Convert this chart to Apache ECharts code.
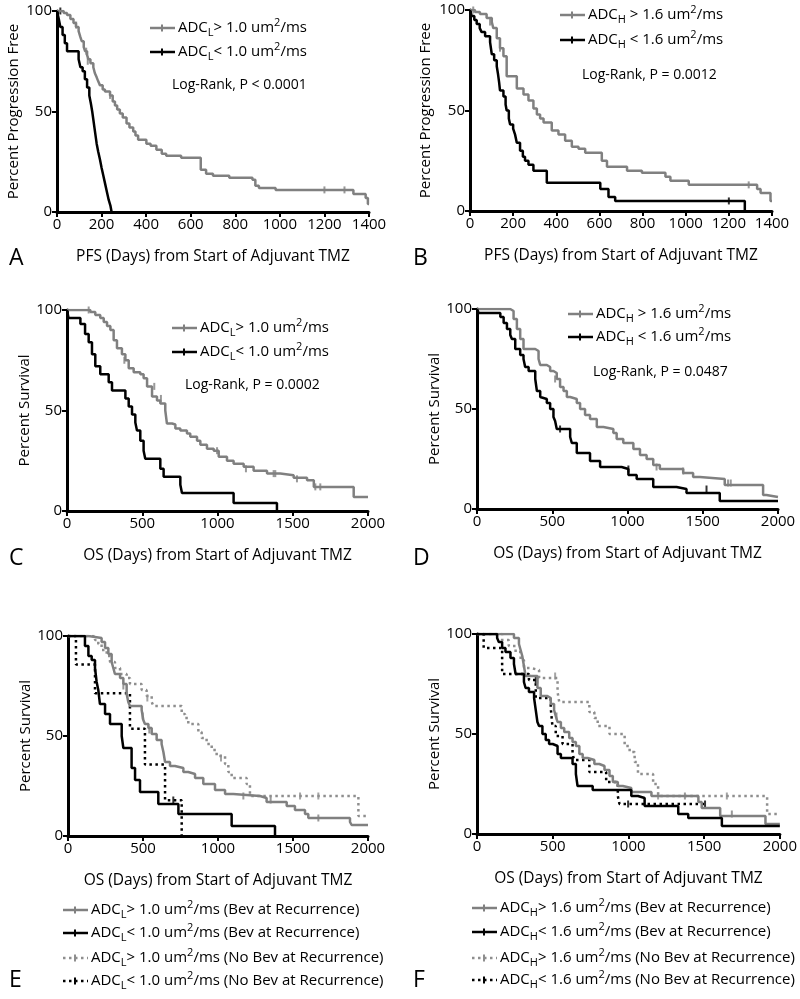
<!DOCTYPE html>
<html>
<head>
<meta charset="utf-8">
<script src="https://cdn.jsdelivr.net/npm/echarts@6/dist/echarts.min.js"></script>
<style>
  html, body { margin: 0; padding: 0; background: #fff; }
  #main { width: 800px; height: 999px; }
</style>
</head>
<body>
<div id="main"></div>
<script>
// Kaplan-Meier curves, [days, percent] (step changes)

// A: PFS by ADC_L
var pfsAdcLHigh = [[0,100],[30,99],[45,98],[60,96],[74,94],[85,92],[97,90],[105,87],[111,85],[120,82],[126,80],[135,78],[141,76],[150,74],[163,72],[170,69],[178,67],[185,65],[193,63],[205,61],[215,60],[238,58],[250,55],[260,53],[270,51],[282,49],[295,47],[312,44],[325,42],[342,40],[352,38],[364,36],[401,34],[420,33],[446,31],[470,29],[490,28],[557,27],[645,21],[669,19],[700,18],[773,17],[877,16],[890,13],[906,12],[981,11],[1330,9],[1385,7],[1395,4],[1400,4]];
var pfsAdcLHighCens = [[86,93],[131,80],[138,75],[238,58],[1200,11],[1290,11]];
var pfsAdcLLow = [[0,100],[8,96],[15,92],[25,88],[35,84],[45,80],[97,76],[105,72],[115,70],[125,66],[135,62],[145,58],[152,54],[158,50],[163,46],[168,42],[173,38],[178,34],[185,30],[193,26],[200,22],[208,18],[216,14],[224,10],[232,6],[240,3],[245,0]];
var pfsAdcLLowCens = [[15,100]];

// B: PFS by ADC_H
var pfsAdcHHigh = [[0,100],[23,99],[46,98],[77,96],[101,94],[108,91],[124,86],[139,81],[155,77],[170,67],[217,61],[248,58],[271,55],[294,51],[310,48],[325,46],[341,44],[379,40],[410,38],[441,35],[472,32],[503,31],[534,29],[611,25],[635,22],[728,20],[797,19],[906,17],[929,15],[1014,13],[1331,11],[1347,9],[1393,5],[1400,5]];
var pfsAdcHHighCens = [[15,100],[93,94],[139,81],[1292,13]];
var pfsAdcHLow = [[0,100],[8,97],[20,95],[31,93],[45,91],[54,89],[70,87],[93,84],[101,78],[112,75],[124,72],[130,68],[135,64],[139,60],[155,57],[165,53],[170,50],[180,46],[186,43],[200,41],[209,38],[217,34],[232,30],[245,27],[255,25],[271,23],[294,20],[356,14],[604,11],[642,7],[673,5],[1274,0]];
var pfsAdcHLowCens = [[1200,5]];

// C: OS by ADC_L
var osAdcLHigh = [[0,100],[155,99],[188,97.5],[221,96],[244,94],[266,92],[288,90],[310,85],[332,81],[365,78],[388,75],[410,71],[443,69],[487,68],[509,66],[532,62],[565,57],[598,55],[620,53.5],[653,50],[664,43.5],[698,43],[720,41],[753,40],[797,38.5],[819,37],[864,35],[886,33],[930,31],[975,30],[1008,27],[1063,25],[1107,23.5],[1174,22],[1240,20],[1329,18.6],[1417,17.8],[1506,16.6],[1595,15.3],[1640,12],[1905,7],[2000,7]];
var osAdcLHighCens = [[144,100],[381,75],[580,62],[624,56],[997,30],[1189,21],[1373,18.6],[1384,18.6],[1528,16],[1650,12],[1683,12]];
var osAdcLLow = [[0,100],[10,96],[89,93],[120,88],[144,84],[166,78],[188,72],[221,68],[277,64],[299,60],[388,56],[410,52],[432,48],[454,44],[465,40],[487,35],[509,30],[520,26],[620,21],[642,17],[753,13],[764,9],[1107,4],[1395,0]];
var osAdcLLowCens = [];

// D: OS by ADC_H
var osAdcHHigh = [[0,100],[221,99],[243,95],[265,90],[287,85],[309,80],[387,79],[409,75],[420,72],[464,71],[486,69],[508,68],[530,65],[552,61],[575,59],[597,56],[619,55],[663,53],[685,50],[718,47],[751,45],[796,41],[840,40],[906,38],[928,35],[972,33],[1039,30],[1083,27],[1127,25],[1171,22],[1215,20],[1370,18],[1436,16],[1481,15],[1646,12],[1901,7],[1923,6],[2000,6]];
var osAdcHHighCens = [[519,65],[1193,21],[1370,19],[1668,13],[1686,13]];
var osAdcHLow = [[0,100],[11,98],[155,96],[177,93],[199,90],[221,87],[232,85],[254,80],[287,77],[309,75],[320,71],[343,69],[387,65],[398,59],[420,56],[431,55],[464,53],[486,50],[508,46],[519,44],[530,40],[619,36],[630,33],[663,28],[751,24],[818,21],[961,20],[1006,17],[1061,15],[1171,11],[1326,10],[1392,8],[1613,4],[2000,4]];
var osAdcHLowCens = [[552,40],[1006,20],[1525,10]];

// E: OS by ADC_L and bevacizumab at recurrence
var bevAdcLHigh = [[0,100],[136,99],[224,97],[247,94],[269,91],[291,87],[302,84],[313,81],[347,79],[369,76],[391,71],[402,67],[413,65],[491,63],[502,58],[513,56],[536,54],[558,51],[591,48],[624,46],[636,42],[647,37],[680,35],[713,34],[769,32],[802,31],[847,29],[902,26],[980,23],[1047,21],[1102,20],[1280,19],[1324,17],[1458,15],[1513,13],[1580,11],[1602,9],[1880,7],[1891,5.5],[2000,5.5]];
var bevAdcLHighCens = [[369,75],[498,60],[542,53],[1169,20],[1351,18],[1669,9]];
var bevAdcLLow = [[0,100],[113,95],[136,90],[158,88],[180,84],[191,77],[202,73],[213,66],[247,61],[280,56],[358,50],[369,44],[424,34],[447,28],[480,22],[602,16],[736,11],[1091,5],[1380,0]];
var bevAdcLLowCens = [];
var noBevAdcLHigh = [[0,100],[180,98],[202,96],[224,93],[258,90],[280,87],[313,84],[347,81],[391,79],[413,76],[491,73],[524,70],[558,67],[569,65],[758,61],[780,59],[802,56],[869,52],[891,49],[924,46],[958,43],[991,40],[1047,36],[1069,32],[1091,29],[1191,26],[1213,20],[1936,10],[2000,10]];
var noBevAdcLHighCens = [[529,69],[1020,39],[1547,20],[1669,20]];
var noBevAdcLLow = [[0,100],[53,85.7],[180,71.4],[413,53.6],[513,35.7],[647,17.9],[758,0]];
var noBevAdcLLowCens = [[702,18]];

// F: OS by ADC_H and bevacizumab at recurrence
var bevAdcHHigh = [[0,100],[244,98],[277,95],[288,92],[299,89],[310,84],[321,79],[399,73],[421,69],[465,68],[487,65],[509,62],[520,59],[532,56],[554,53],[576,51],[609,48],[631,46],[653,44],[676,40],[698,38],[731,37],[775,35],[808,34],[842,32],[875,29],[897,26],[930,24],[963,23],[1019,21],[1152,19],[1462,16],[1484,13],[1606,9],[1905,5],[2000,5]];
var bevAdcHHighCens = [[399,77],[525,59],[1373,19],[1683,10]];
var bevAdcHLow = [[0,100],[133,98],[144,96],[166,93],[188,91],[221,88],[244,85],[255,80],[310,76],[321,73],[343,71],[377,68],[388,62],[399,56],[410,54],[432,50],[454,47],[476,45],[500,44],[532,40],[554,38],[631,35],[653,30],[664,24],[764,22],[1019,19],[1063,18],[1107,14],[1329,10],[1395,8],[1617,4],[2000,4]];
var bevAdcHLowCens = [[388,77]];
var noBevAdcHHigh = [[0,100],[166,97],[210,94],[255,91],[288,87],[310,83],[354,82],[410,78],[532,71],[543,66],[742,61],[775,58],[797,54],[875,50],[975,44],[1008,41],[1041,36],[1063,30],[1163,25],[1196,19],[1916,10],[2000,10]];
var noBevAdcHHighCens = [[516,79],[1196,19],[1650,19]];
var noBevAdcHLow = [[0,100],[44,93],[166,80],[343,77],[388,68],[487,63],[498,54],[520,49],[565,45],[631,40],[642,37],[742,31],[853,26],[930,19],[941,15],[1506,15]];
var noBevAdcHLowCens = [[998,15],[1506,15]];

// axis ranges / labels
var pfsMax = 1400, pfsStep = 200;
var osMax = 2000, osStep = 500;
var pctTicks = 50;
var pfsTitle = 'PFS (Days) from Start of Adjuvant TMZ';
var osTitle = 'OS (Days) from Start of Adjuvant TMZ';
var logRank = ['Log-Rank, P < 0.0001', 'Log-Rank, P = 0.0012', 'Log-Rank, P = 0.0002', 'Log-Rank, P = 0.0487'];

var GRAY = '#808080';
var DGRAY = '#8e8e8e';
var FONT = 'Open Sans';
var DOT = [2.5, 3.5];

var panels = [
  { letter: 'A', lx: 9, ly: 258, box: [57, 11, 312, 201], xMax: pfsMax, xStep: pfsStep, xName: pfsTitle, yName: 'Percent Progression Free', yGap: 36,
    curves: [
      { data: pfsAdcLHigh, cens: pfsAdcLHighCens, color: GRAY },
      { data: pfsAdcLLow, cens: pfsAdcLLowCens, color: '#000' }
    ] },
  { letter: 'B', lx: 413, ly: 258, box: [470, 10, 302, 201], xMax: pfsMax, xStep: pfsStep, xName: pfsTitle, yName: 'Percent Progression Free', yGap: 37,
    curves: [
      { data: pfsAdcHHigh, cens: pfsAdcHHighCens, color: GRAY },
      { data: pfsAdcHLow, cens: pfsAdcHLowCens, color: '#000' }
    ] },
  { letter: 'C', lx: 9, ly: 558, box: [67, 310, 301, 201], xMax: osMax, xStep: osStep, xName: osTitle, yName: 'Percent Survival', yGap: 29,
    curves: [
      { data: osAdcLHigh, cens: osAdcLHighCens, color: GRAY },
      { data: osAdcLLow, cens: osAdcLLowCens, color: '#000' }
    ] },
  { letter: 'D', lx: 413, ly: 558, box: [477, 309, 301, 200], xMax: osMax, xStep: osStep, xName: osTitle, yName: 'Percent Survival', yGap: 34,
    curves: [
      { data: osAdcHHigh, cens: osAdcHHighCens, color: GRAY },
      { data: osAdcHLow, cens: osAdcHLowCens, color: '#000' }
    ] },
  { letter: 'E', lx: 9, ly: 980, box: [68, 636, 300, 200], xMax: osMax, xStep: osStep, xName: osTitle, yName: 'Percent Survival', yGap: 29,
    curves: [
      { data: noBevAdcLHigh, cens: noBevAdcLHighCens, color: DGRAY, dotted: true },
      { data: noBevAdcLLow, cens: noBevAdcLLowCens, color: '#000', dotted: true },
      { data: bevAdcLHigh, cens: bevAdcLHighCens, color: GRAY },
      { data: bevAdcLLow, cens: bevAdcLLowCens, color: '#000' }
    ] },
  { letter: 'F', lx: 413, ly: 980, box: [477, 634, 303, 200], xMax: osMax, xStep: osStep, xName: osTitle, yName: 'Percent Survival', yGap: 34,
    curves: [
      { data: noBevAdcHHigh, cens: noBevAdcHHighCens, color: DGRAY, dotted: true },
      { data: noBevAdcHLow, cens: noBevAdcHLowCens, color: '#000', dotted: true },
      { data: bevAdcHHigh, cens: bevAdcHHighCens, color: GRAY },
      { data: bevAdcHLow, cens: bevAdcHLowCens, color: '#000' }
    ] }
];

var axisLine = { lineStyle: { color: '#000', width: 3 } };
var axisTick = { length: 5, lineStyle: { color: '#000', width: 2 } };
var axisLabel = { color: '#000', fontSize: 15, fontFamily: FONT, margin: 5, formatter: function (v) { return String(v); } };
var xNameStyle = { color: '#000', fontSize: 15.5, fontFamily: FONT };
var yNameStyle = { color: '#000', fontSize: 15, fontFamily: FONT };

var grid = [], xAxis = [], yAxis = [], series = [], graphic = [];

panels.forEach(function (p, i) {
  grid.push({ left: p.box[0], top: p.box[1], width: p.box[2], height: p.box[3] });
  xAxis.push({
    gridIndex: i, type: 'value', min: 0, max: p.xMax, interval: p.xStep,
    name: p.xName, nameLocation: 'middle', nameGap: 37, nameTextStyle: xNameStyle,
    axisLine: axisLine, axisTick: axisTick, axisLabel: axisLabel, splitLine: { show: false }
  });
  yAxis.push({
    gridIndex: i, type: 'value', min: 0, max: 100, interval: pctTicks,
    name: p.yName, nameLocation: 'middle', nameGap: p.yGap, nameTextStyle: yNameStyle,
    axisLine: axisLine, axisTick: axisTick, axisLabel: axisLabel, splitLine: { show: false }
  });
  p.curves.forEach(function (c) {
    series.push({
      type: 'line', xAxisIndex: i, yAxisIndex: i, step: 'end', data: c.data,
      showSymbol: false, silent: true,
      lineStyle: { color: c.color, width: 2.5, type: c.dotted ? DOT : 'solid' }
    });
    if (c.cens.length) {
      series.push({
        type: 'scatter', xAxisIndex: i, yAxisIndex: i, data: c.cens, silent: true,
        symbol: 'rect', symbolSize: [2, 7], itemStyle: { color: c.color }
      });
    }
  });
  graphic.push({ type: 'text', x: p.lx, y: p.ly, style: { text: p.letter, font: '23px "' + FONT + '"', fill: '#000', verticalAlign: 'middle' } });
});

// legend text with sub/superscripts
var rich = {
  n: { fontSize: 15, fontFamily: FONT, fill: '#000' },
  s: { fontSize: 11, fontFamily: FONT, fill: '#000', padding: [10, 0, 0, 0], verticalAlign: 'bottom' },
  p: { fontSize: 11, fontFamily: FONT, fill: '#000', padding: [0, 0, 8, 0], verticalAlign: 'top' }
};
function adc(sub, op, tail) {
  return '{n|ADC}{s|' + sub + '}{n|' + op + ' um}{p|2}{n|/ms' + tail + '}';
}
function legendItem(x, y, color, dotted, text) {
  graphic.push({ type: 'line', shape: { x1: x, y1: y, x2: x + 25, y2: y }, style: { stroke: color, lineWidth: 2.5, lineDash: dotted ? DOT : null } });
  graphic.push({ type: 'rect', shape: { x: x + 11, y: y - 3.5, width: 2, height: 7 }, style: { fill: color } });
  graphic.push({ type: 'text', x: x + 28, y: y, style: { text: text, rich: rich, font: '15px "' + FONT + '"', fill: '#000', verticalAlign: 'middle' } });
}
function plainText(x, y, t) {
  graphic.push({ type: 'text', x: x, y: y, style: { text: t, font: '14px "' + FONT + '"', fill: '#000', verticalAlign: 'middle' } });
}

legendItem(150, 28, GRAY, false, adc('L', '> 1.0', ''));
legendItem(150, 52, '#000', false, adc('L', '< 1.0', ''));
plainText(172, 85, logRank[0]);

legendItem(560, 15, GRAY, false, adc('H', ' > 1.6', ''));
legendItem(560, 40, '#000', false, adc('H', ' < 1.6', ''));
plainText(582, 75, logRank[1]);

legendItem(172, 328, GRAY, false, adc('L', '> 1.0', ''));
legendItem(172, 352, '#000', false, adc('L', '< 1.0', ''));
plainText(185, 385, logRank[2]);

legendItem(568, 314, GRAY, false, adc('H', ' > 1.6', ''));
legendItem(568, 337, '#000', false, adc('H', ' < 1.6', ''));
plainText(593, 372, logRank[3]);

legendItem(63, 910, GRAY, false, adc('L', '> 1.0', ' (Bev at Recurrence)'));
legendItem(63, 933, '#000', false, adc('L', '< 1.0', ' (Bev at Recurrence)'));
legendItem(63, 958, DGRAY, true, adc('L', '> 1.0', ' (No Bev at Recurrence)'));
legendItem(63, 981, '#000', true, adc('L', '< 1.0', ' (No Bev at Recurrence)'));

legendItem(472, 908, GRAY, false, adc('H', '> 1.6', ' (Bev at Recurrence)'));
legendItem(472, 932, '#000', false, adc('H', '< 1.6', ' (Bev at Recurrence)'));
legendItem(472, 958, DGRAY, true, adc('H', '> 1.6', ' (No Bev at Recurrence)'));
legendItem(472, 980, '#000', true, adc('H', '< 1.6', ' (No Bev at Recurrence)'));

var chart = echarts.init(document.getElementById('main'));
chart.setOption({
  animation: false,
  backgroundColor: '#fff',
  grid: grid,
  xAxis: xAxis,
  yAxis: yAxis,
  series: series,
  graphic: graphic
});
</script>
</body>
</html>
